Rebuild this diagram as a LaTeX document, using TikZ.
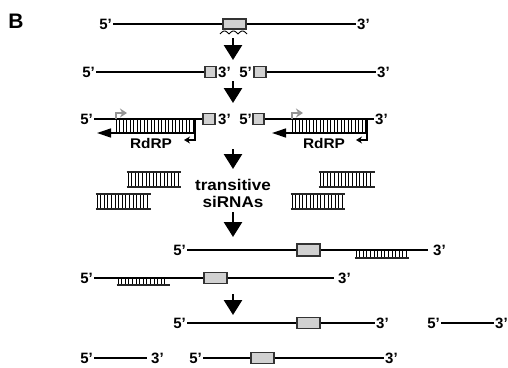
\documentclass[tikz,border=0pt]{standalone}
\usepackage{fontspec}
\setmainfont{Liberation Sans}
\newfontfamily\widefont{Liberation Sans}[FakeStretch=1.1]
\usetikzlibrary{arrows.meta}
\newcommand\mkduplex[3]{% x1, x2, ytop
  \pgfmathsetmacro\dupB{#1+3.6}%
  \pgfmathsetmacro\dupY{#3+15}%
  \foreach \xx in {#1,\dupB,...,#2} \draw[rung] (\xx,#3) -- (\xx,\dupY);
  \draw[dupline] ({#1-1.5},#3) -- ({#2+1.5},#3);
  \draw[dupline] ({#1-1.5},\dupY) -- ({#2+1.5},\dupY);
}
\begin{document}
\begin{tikzpicture}[x=1pt,y=-1pt,
  lbl/.style={inner sep=1pt, font=\fontsize{15}{18}\selectfont\bfseries},
  word/.style={inner sep=0pt, font=\widefont\fontsize{15.5}{18}\selectfont\bfseries},
  rdrp/.style={inner sep=0pt, font=\widefont\fontsize{14}{16}\selectfont\bfseries},
  rna/.style={line width=1.1pt, draw=black},
  gbox/.style={draw=black!80, fill=black!18, line width=1.1pt, inner sep=0pt},
  bigarrow/.style={line width=2.7pt, -{Triangle[width=18pt,length=15pt]}},
  rung/.style={line width=0.7pt},
  dupline/.style={line width=1.6pt, draw=black!85},
  strand/.style={line width=1.3pt, -{Triangle[width=9pt,length=14pt]}},
  hook/.style={line width=1.3pt, -{Stealth[width=7pt,length=6pt]}},
  primer/.style={line width=1.6pt, draw=black!42, -{Stealth[width=9pt,length=7pt]}}
]
\useasboundingbox (0,0) rectangle (508,367);

\node[inner sep=0pt, font=\fontsize{21}{24}\selectfont\bfseries] (lab) at (16,21) {B};

% row 1
\node[lbl, anchor=east] (r1l) at (113,24) {5’};
\node[gbox, minimum width=23pt, minimum height=10pt] (b1) at (234.5,24) {};
\node[lbl, anchor=west] (r1r) at (356,24) {3’};
\draw[rna] (r1l.east) -- (b1.west);
\draw[rna] (b1.east) -- (r1r.west);
\draw[line width=0.9pt] plot[domain=0:27, samples=90] ({220+\x},{34-3*abs(sin(\x*20))});

\coordinate (a1s) at (233,38);
\coordinate (a1e) at (233,60);
\draw[bigarrow] (a1s) -- (a1e);

% row 2
\node[lbl, anchor=east] (r2l) at (96,72) {5’};
\node[gbox, minimum width=11pt, minimum height=11pt] (b2a) at (210.5,72) {};
\node[lbl, anchor=west] (r2m1) at (217,72) {3’};
\node[lbl, anchor=east] (r2m2) at (253,72) {5’};
\node[gbox, minimum width=12pt, minimum height=11pt] (b2b) at (260,72) {};
\node[lbl, anchor=west] (r2r) at (376,72) {3’};
\draw[rna] (r2l.east) -- (b2a.west);
\draw[rna] (b2b.east) -- (r2r.west);

\coordinate (a2s) at (233,81);
\coordinate (a2e) at (233,103);
\draw[bigarrow] (a2s) -- (a2e);

% row 3
\node[lbl, anchor=east] (r3l) at (94,119) {5’};
\node[gbox, minimum width=12pt, minimum height=11pt] (b3a) at (209,119) {};
\node[lbl, anchor=west] (r3m1) at (217,119) {3’};
\node[lbl, anchor=east] (r3m2) at (253,119) {5’};
\node[gbox, minimum width=11pt, minimum height=11pt] (b3b) at (258.5,119) {};
\node[lbl, anchor=west] (r3r) at (374,119) {3’};
\draw[rna] (r3l.east) -- (b3a.west);
\draw[rna] (b3b.east) -- (r3r.west);

% left RdRP
\foreach \xx in {116,119.5,...,193} \draw[rung] (\xx,119) -- (\xx,133);
\coordinate (lst) at (195,133);
\coordinate (lse) at (97,133);
\draw[strand] (lst) -- (lse);
\coordinate (lh0) at (195,119);
\coordinate (lh1) at (195,140);
\coordinate (lh2) at (184,140);
\draw[hook] (lh0) -- (lh1) -- (lh2);
\coordinate (lp0) at (116,119);
\coordinate (lp1) at (116,113);
\coordinate (lp2) at (127,113);
\draw[primer] (lp0) -- (lp1) -- (lp2);
\node[rdrp] (rd1) at (151,143) {RdRP};

% right RdRP
\foreach \xx in {292,295.5,...,366} \draw[rung] (\xx,119) -- (\xx,133);
\coordinate (rst) at (367,133);
\coordinate (rse) at (272,133);
\draw[strand] (rst) -- (rse);
\coordinate (rh0) at (367,119);
\coordinate (rh1) at (367,140);
\coordinate (rh2) at (356,140);
\draw[hook] (rh0) -- (rh1) -- (rh2);
\coordinate (rp0) at (292,119);
\coordinate (rp1) at (292,113);
\coordinate (rp2) at (303,113);
\draw[primer] (rp0) -- (rp1) -- (rp2);
\node[rdrp] (rd2) at (324,143) {RdRP};

\coordinate (a3s) at (233,149);
\coordinate (a3e) at (233,169);
\draw[bigarrow] (a3s) -- (a3e);

% transitive siRNAs
\mkduplex{128}{179}{172}
\mkduplex{97}{149}{194}
\mkduplex{320}{373}{172}
\mkduplex{292}{343}{194}
\node[word] (t1) at (233,185) {transitive};
\node[word] (t2) at (233,202) {siRNAs};

\coordinate (a4s) at (233,212);
\coordinate (a4e) at (233,237);
\draw[bigarrow] (a4s) -- (a4e);

% row 5
\node[lbl, anchor=east] (r5l) at (187,250) {5’};
\node[gbox, minimum width=23pt, minimum height=12pt] (b5) at (308.5,250) {};
\node[lbl, anchor=west] (r5r) at (432,250) {3’};
\draw[rna] (r5l.east) -- (b5.west);
\draw[rna] (b5.east) -- ([xshift=-4pt]r5r.west);
\foreach \xx in {356,359.6,...,407} \draw[rung] (\xx,250) -- (\xx,258);
\draw[dupline] (354.5,258) -- (408.5,258);

% row 6
\node[lbl, anchor=east] (r6l) at (94,278) {5’};
\node[gbox, minimum width=23pt, minimum height=11pt] (b6) at (215.5,278) {};
\node[lbl, anchor=west] (r6r) at (337,278) {3’};
\draw[rna] (r6l.east) -- (b6.west);
\draw[rna] (b6.east) -- ([xshift=-3pt]r6r.west);
\foreach \xx in {118,121.6,...,168} \draw[rung] (\xx,278) -- (\xx,285);
\draw[dupline] (116.5,285) -- (169.5,285);

\coordinate (a5s) at (233,294);
\coordinate (a5e) at (233,315);
\draw[bigarrow] (a5s) -- (a5e);

% row 7
\node[lbl, anchor=east] (r7l) at (187,323) {5’};
\node[gbox, minimum width=23pt, minimum height=11pt] (b7) at (308.5,323) {};
\node[lbl, anchor=west] (r7r) at (375,323) {3’};
\draw[rna] (r7l.east) -- (b7.west);
\draw[rna] (b7.east) -- (r7r.west);
\node[lbl, anchor=east] (r7l2) at (441,323) {5’};
\node[lbl, anchor=west] (r7r2) at (494,323) {3’};
\draw[rna] (r7l2.east) -- (r7r2.west);

% row 8
\node[lbl, anchor=east] (r8l) at (94,358) {5’};
\node[lbl, anchor=west] (r8r) at (150,358) {3’};
\draw[rna] (r8l.east) -- ([xshift=-3pt]r8r.west);
\node[lbl, anchor=east] (r8l2) at (203,358) {5’};
\node[gbox, minimum width=23pt, minimum height=11pt] (b8) at (262.5,358) {};
\node[lbl, anchor=west] (r8r2) at (384,358) {3’};
\draw[rna] (r8l2.east) -- (b8.west);
\draw[rna] (b8.east) -- (r8r2.west);
\end{tikzpicture}
\end{document}
